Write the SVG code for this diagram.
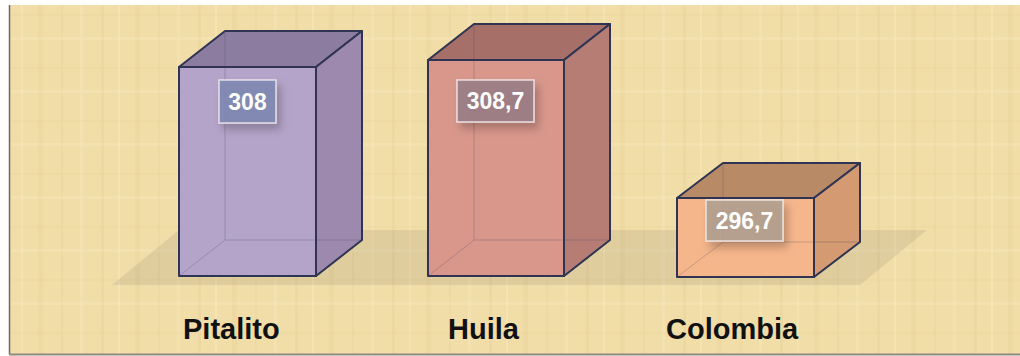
<svg xmlns="http://www.w3.org/2000/svg" width="1020" height="356" viewBox="0 0 1020 356">
  <defs>
    <pattern id="papyrus" width="97" height="53" patternUnits="userSpaceOnUse">
      <rect width="97" height="53" fill="#F1DDA8"/>
      <rect x="4" y="0" width="3" height="53" fill="#DFC488" opacity="0.18"/>
      <rect x="21" y="0" width="2" height="53" fill="#FAEDC6" opacity="0.35"/>
      <rect x="38" y="0" width="5" height="53" fill="#DCC286" opacity="0.15"/>
      <rect x="61" y="0" width="2" height="53" fill="#E3CA90" opacity="0.2"/>
      <rect x="80" y="0" width="3" height="53" fill="#FAEDC6" opacity="0.3"/>
      <rect x="0" y="14" width="97" height="2" fill="#E2C98E" opacity="0.15"/>
      <rect x="0" y="37" width="97" height="3" fill="#F8EAC2" opacity="0.25"/>
    </pattern>
    <filter id="shadow" x="-30%" y="-30%" width="170%" height="180%">
      <feDropShadow dx="4" dy="6" stdDeviation="4" flood-color="#000" flood-opacity="0.25"/>
    </filter>
  </defs>
  <style>
    .edge { stroke: #2E3452; stroke-width: 2; stroke-linejoin: round; }
    .hidden { stroke: #3A3F60; stroke-width: 1; opacity: 0.25; fill: none; }
    .lbl { stroke: #F2EEF0; stroke-width: 1.6; stroke-opacity: 0.8; filter: url(#shadow); }
    .val { font-family: "Liberation Sans", Arial, sans-serif; font-weight: bold; font-size: 23px; fill: #FFFFFF; text-anchor: middle; }
    .cat { font-family: "Liberation Sans", Arial, sans-serif; font-weight: bold; font-size: 29px; fill: #111111; }
  </style>

  <!-- background -->
  <rect x="0" y="0" width="1020" height="356" fill="#FFFFFF"/>
  <rect x="9" y="5" width="1011" height="349" fill="url(#papyrus)"/>
  <line x1="9.5" y1="5" x2="9.5" y2="354" stroke="#6E6A60" stroke-width="1.5"/>
  <line x1="9" y1="354.5" x2="1020" y2="354.5" stroke="#8E8A80" stroke-width="2"/>

  <!-- floor shadow -->
  <polygon points="112,285 860,285 927,230 179,230" fill="#7A7460" opacity="0.15"/>

  <g id="node-pitalito">
    <polygon points="179,67 225,31 362,31 316,67" fill="#8C7DA0" class="edge"/>
    <polygon points="316,67 362,31 362,240 316,276" fill="#9C89AD" class="edge"/>
    <rect x="179" y="67" width="137" height="209" fill="#B5A4C9" class="edge"/>
    <polyline class="hidden" points="225,31 225,240 362,240"/>
    <line class="hidden" x1="179" y1="276" x2="225" y2="240"/>
    <rect x="219" y="80" width="57" height="43" fill="#8088B4" fill-opacity="0.9" class="lbl"/>
    <text x="247.5" y="110" class="val">308</text>
    <text x="183" y="339" class="cat">Pitalito</text>
  </g>

  <g id="node-huila">
    <polygon points="428,60 474,24 610,24 564,60" fill="#A66F68" class="edge"/>
    <polygon points="564,60 610,24 610,240 564,276" fill="#B67D74" class="edge"/>
    <rect x="428" y="60" width="136" height="216" fill="#D9978C" class="edge"/>
    <polyline class="hidden" points="474,24 474,240 610,240"/>
    <line class="hidden" x1="428" y1="276" x2="474" y2="240"/>
    <rect x="457" y="80" width="77" height="42" fill="#9A7E86" fill-opacity="0.9" class="lbl"/>
    <text x="495.5" y="109" class="val">308,7</text>
    <text x="448" y="339" class="cat">Huila</text>
  </g>

  <g id="node-colombia">
    <polygon points="677,198 723,163 860,163 814,198" fill="#B98A66" class="edge"/>
    <polygon points="814,198 860,163 860,242 814,277" fill="#D49A72" class="edge"/>
    <rect x="677" y="198" width="137" height="79" fill="#F6B68C" class="edge"/>
    <polyline class="hidden" points="723,163 723,242 860,242"/>
    <line class="hidden" x1="677" y1="277" x2="723" y2="242"/>
    <rect x="706" y="200" width="77" height="41" fill="#B2A08F" fill-opacity="0.92" class="lbl"/>
    <text x="744.5" y="229" class="val">296,7</text>
    <text x="666" y="339" class="cat">Colombia</text>
  </g>

  <g id="connectors"/>
</svg>
